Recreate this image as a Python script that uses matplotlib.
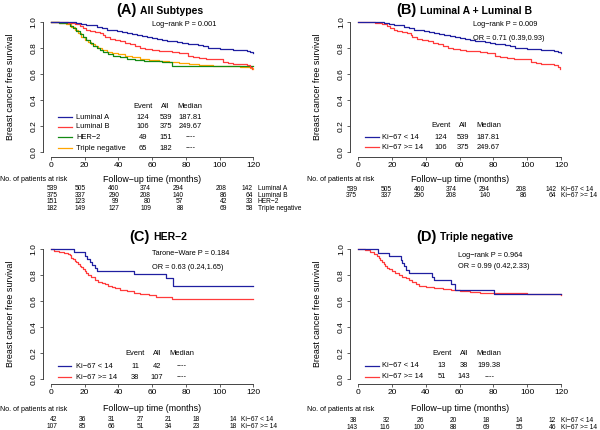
import numpy as np
import matplotlib
matplotlib.use("Agg")
import matplotlib.pyplot as plt
import matplotlib.transforms as mtransforms

plt.rcParams['font.family'] = ['Liberation Sans', 'DejaVu Sans']

# ---- survival curves (time in months, survival fraction) ----
lumA_t = [0, 8, 12, 15, 18, 21, 24, 27, 30, 33, 36, 39, 42, 45, 48, 51, 54, 57, 60, 63, 66, 69,
          72, 75, 78, 81, 84, 87, 90, 93, 96, 100, 104, 108, 112, 116, 118, 120]
lumA_s = [1.0, 0.998, 0.995, 0.99, 0.985, 0.978, 0.972, 0.962, 0.948, 0.94, 0.935, 0.928, 0.922,
          0.915, 0.907, 0.898, 0.89, 0.882, 0.872, 0.866, 0.86, 0.855, 0.85, 0.845, 0.838, 0.832,
          0.826, 0.82, 0.812, 0.8, 0.797, 0.792, 0.787, 0.784, 0.78, 0.776, 0.768, 0.758]

lumB_t = [0, 5, 10, 14, 17, 19, 21, 23, 26, 29, 31, 32, 35, 38, 41, 44, 47, 50, 53, 56, 60, 64,
          68, 72, 76, 80, 81, 84, 88, 92, 96, 100, 102, 105, 108, 112, 116, 118, 119.5]
lumB_s = [1.0, 0.995, 0.99, 0.98, 0.97, 0.955, 0.94, 0.925, 0.918, 0.912, 0.9, 0.88, 0.868, 0.858,
          0.848, 0.84, 0.83, 0.815, 0.8, 0.792, 0.785, 0.778, 0.772, 0.765, 0.762, 0.758, 0.735,
          0.728, 0.72, 0.716, 0.713, 0.71, 0.69, 0.683, 0.677, 0.672, 0.668, 0.655, 0.635]

her2_t = [0, 5, 8, 11, 13, 15, 17, 19, 21, 23, 25, 27, 29, 31, 34, 37, 41, 45, 50, 55, 60, 66,
          72, 120]
her2_s = [1.0, 0.993, 0.987, 0.97, 0.955, 0.93, 0.905, 0.88, 0.86, 0.84, 0.815, 0.795, 0.78,
          0.765, 0.75, 0.735, 0.725, 0.715, 0.708, 0.7, 0.694, 0.69, 0.66, 0.66]

tn_t = [0, 5, 9, 12, 14, 16, 18, 20, 22, 24, 26, 28, 30, 33, 36, 40, 44, 48, 53, 58, 64, 70, 76,
        82, 88, 96, 104, 112, 118, 120]
tn_s = [1.0, 0.993, 0.985, 0.96, 0.94, 0.91, 0.88, 0.86, 0.845, 0.83, 0.81, 0.795, 0.78, 0.77,
        0.76, 0.748, 0.737, 0.727, 0.715, 0.706, 0.697, 0.688, 0.68, 0.673, 0.667, 0.662, 0.657,
        0.652, 0.645, 0.638]

her2_lo_t = [0, 13.6, 20, 21.5, 23, 24.5, 26, 27.5, 49.4, 68, 72.5, 120]
her2_lo_s = [1.0, 0.976, 0.952, 0.929, 0.905, 0.881, 0.857, 0.833, 0.81, 0.78, 0.715, 0.715]
her2_hi_t = [0, 2, 5, 8, 10, 11, 12, 13, 14, 15, 16, 17, 18, 19, 20, 21, 22, 24, 26, 28, 30, 32,
             34, 36, 38, 41, 45, 49, 53, 58, 62, 72, 120]
her2_hi_s = [1.0, 0.99, 0.981, 0.972, 0.963, 0.953, 0.935, 0.925, 0.91, 0.9, 0.89, 0.875, 0.865,
             0.85, 0.835, 0.815, 0.8, 0.785, 0.765, 0.75, 0.74, 0.73, 0.72, 0.71, 0.7, 0.688,
             0.675, 0.665, 0.655, 0.645, 0.635, 0.615, 0.615]

tn_lo_t = [0, 11.5, 18, 25, 26, 27, 28.4, 30, 43.7, 45, 54.7, 57, 80.5, 120]
tn_lo_s = [1.0, 0.974, 0.947, 0.921, 0.895, 0.868, 0.842, 0.816, 0.79, 0.76, 0.73, 0.69, 0.655,
           0.655]
tn_hi_t = [0, 4, 7, 9, 11, 12, 13, 14, 15, 16, 17, 18, 20, 22, 24, 26, 28, 30, 32, 34, 36, 40,
           45, 50, 55, 60, 66, 72, 80, 90, 100, 114, 120]
tn_hi_s = [1.0, 0.993, 0.979, 0.965, 0.95, 0.935, 0.92, 0.9, 0.885, 0.87, 0.855, 0.845, 0.83,
           0.815, 0.8, 0.79, 0.775, 0.76, 0.745, 0.732, 0.72, 0.712, 0.705, 0.697, 0.69, 0.678,
           0.67, 0.665, 0.665, 0.66, 0.658, 0.655, 0.645]

# ---- legend tables ----
subtype_names = ['Luminal A', 'Luminal B', 'HER\u22122', 'Triple negative']
subtype_events = [124, 106, 49, 65]
subtype_all = [539, 375, 151, 182]
subtype_median = ['187.81', '249.67', '----', '----']

ki_names = ['Ki\u221267 < 14', 'Ki\u221267 >= 14']
lum_events = [124, 106]
lum_all = [539, 375]
lum_median = ['187.81', '249.67']
her2_events = [11, 38]
her2_all = [42, 107]
her2_median = ['----', '----']
tn_events = [13, 51]
tn_all = [38, 143]
tn_median = ['199.38', '----']

# ---- numbers at risk at 0, 20, ..., 120 months ----
risk_lumA = [539, 505, 460, 374, 294, 208, 142]
risk_lumB = [375, 337, 290, 208, 140, 86, 64]
risk_her2 = [151, 123, 99, 80, 57, 42, 33]
risk_tn = [182, 149, 127, 109, 88, 69, 58]
risk_her2_lo = [42, 36, 31, 27, 21, 18, 14]
risk_her2_hi = [107, 85, 66, 51, 34, 23, 18]
risk_tn_lo = [38, 32, 26, 20, 18, 14, 12]
risk_tn_hi = [143, 116, 100, 88, 69, 55, 46]

BLUE = '#1f1fa0'
RED = '#ff3b3b'
GREEN = '#138a13'
ORANGE = '#ffa500'

W, H = 600, 430
fig = plt.figure(figsize=(6, 4.3), dpi=100)
# transform in figure pixels, origin top-left
fig_px = mtransforms.Affine2D().scale(1 / W, -1 / H).translate(0, 1) + fig.transFigure


def px_axes(x0, x120, y1, y0):
    # R style axes: 4% padding around data range
    ppm = (x120 - x0) / 120.
    left, right = x0 - 4.8 * ppm, x120 + 4.8 * ppm
    ppu = y0 - y1
    top, bottom = y1 - 0.04 * ppu, y0 + 0.04 * ppu
    return fig.add_axes([left / W, 1 - bottom / H, (right - left) / W, (bottom - top) / H])


def draw_panel(ax, curves, xlab_y):
    for t, s, c in curves:
        ax.plot(t, s, drawstyle='steps-post', color=c, lw=0.9, clip_on=False)
    ax.set_xlim(-4.8, 124.8)
    ax.set_ylim(-0.04, 1.04)
    for sp in ['top', 'right']:
        ax.spines[sp].set_visible(False)
    ax.spines['left'].set_bounds(0, 1)
    ax.spines['bottom'].set_bounds(0, 120)
    for sp in ['left', 'bottom']:
        ax.spines[sp].set_linewidth(0.7)
        ax.spines[sp].set_color('#444444')
    ax.set_xticks(np.arange(0, 121, 20))
    ax.set_yticks(np.arange(0, 1.01, 0.2))
    ax.set_yticklabels([f'{v:.1f}' for v in np.arange(0, 1.01, 0.2)])
    ax.tick_params(length=2.5, width=0.6, pad=1.2, labelsize=6, color='#444444')
    ax.tick_params(axis='y', labelrotation=90)
    for lab in ax.get_yticklabels():
        lab.set_va('center')
    ax.set_xlabel('Follow\u2212up time (months)', fontsize=6.4)
    ax.set_ylabel('Breast cancer free survival', fontsize=6.4)
    ax.xaxis.set_label_coords(0.5, xlab_y)
    ax.yaxis.set_label_coords(-0.128, 0.5)


def legend_table(ax, names, colors, events, alls, medians, xs, y_head, y_rows):
    x_l0, x_l1, x_lab, x_ev, x_all, x_med = xs
    ax.text(x_ev, y_head, 'Event', fontsize=5.4, ha='center', va='center')
    ax.text(x_all, y_head, 'All', fontsize=5.4, ha='center', va='center')
    ax.text(x_med, y_head, 'Median', fontsize=5.4, ha='center', va='center')
    for n, c, e, a, m, y in zip(names, colors, events, alls, medians, y_rows):
        ax.plot([x_l0, x_l1], [y, y], color=c, lw=0.9)
        ax.text(x_lab, y, n, fontsize=5.4, ha='left', va='center')
        ax.text(x_ev, y, str(e), fontsize=5.4, ha='center', va='center')
        ax.text(x_all, y, str(a), fontsize=5.4, ha='center', va='center')
        ax.text(x_med, y, m, fontsize=5.4, ha='center', va='center')


def risk_table(ax, rows, names, col_x, lab_x, head_xy, row_y):
    tr = mtransforms.blended_transform_factory(ax.transData, fig_px)
    fig.text(head_xy[0], head_xy[1], 'No. of patients at risk', fontsize=5.1,
             ha='left', va='center', transform=fig_px)
    for vals, n, y in zip(rows, names, row_y):
        for v, x in zip(vals, col_x):
            ax.text(x, y, str(v), fontsize=4.8, ha='right', va='center', transform=tr,
                    clip_on=False)
        ax.text(lab_x, y, n, fontsize=4.8, ha='left', va='center', transform=tr, clip_on=False)


def title(x_split, y, tag, name):
    fig.text(x_split, y, tag, fontsize=10.5, fontweight='bold', ha='right', va='center',
             transform=fig_px)
    fig.text(x_split + 3.5, y + 0.5, name, fontsize=7.5, fontweight='bold', ha='left',
             va='center', transform=fig_px)


# (A) All subtypes
axA = px_axes(51, 253.3, 21.7, 151.7)
draw_panel(axA, [(tn_t, tn_s, ORANGE), (her2_t, her2_s, GREEN),
                 (lumB_t, lumB_s, RED), (lumA_t, lumA_s, BLUE)], -0.13)
axA.text(60, 0.975, 'Log\u2212rank P = 0.001', fontsize=5.3, ha='left', va='center')
legend_table(axA, subtype_names, [BLUE, RED, GREEN, ORANGE], subtype_events, subtype_all,
             subtype_median, (4.2, 12.5, 14.8, 54.6, 68, 82.6), 0.35,
             [0.266, 0.19, 0.113, 0.028])
risk_table(axA, [risk_lumA, risk_lumB, risk_her2, risk_tn], subtype_names,
           [3.8, 20.6, 40.4, 59.3, 78.6, 104.4, 119.8], 122.6, (0.5, 179.5),
           [188.3, 195.1, 201.8, 208.8])
title(136.7, 10, '(A)', 'All Subtypes')

# (B) Luminal A + Luminal B
axB = px_axes(358.3, 561, 21.7, 151.7)
draw_panel(axB, [(lumB_t, lumB_s, RED), (lumA_t, lumA_s, BLUE)], -0.13)
axB.text(68, 0.975, 'Log\u2212rank P = 0.009', fontsize=5.3, ha='left', va='center')
axB.text(68, 0.872, 'OR = 0.71 (0.39,0.93)', fontsize=5.3, ha='left', va='center')
legend_table(axB, ki_names, [BLUE, RED], lum_events, lum_all, lum_median,
             (4, 12, 14, 49, 62, 77), 0.198, [0.113, 0.036])
risk_table(axB, [risk_lumA, risk_lumB], ki_names,
           [-0.6, 19.8, 39.5, 58.3, 78, 99.7, 117.1], 120.2, (307, 179.5), [189.5, 195.8])
title(416.7, 10, '(B)', 'Luminal A + Luminal B')

# (C) HER-2
axC = px_axes(51, 253.3, 249.3, 379)
draw_panel(axC, [(her2_hi_t, her2_hi_s, RED), (her2_lo_t, her2_lo_s, BLUE)], -0.14)
axC.text(60, 0.964, 'Tarone\u2212Ware P = 0.184', fontsize=5.3, ha='left', va='center')
axC.text(60, 0.856, 'OR = 0.63 (0.24,1.65)', fontsize=5.3, ha='left', va='center')
legend_table(axC, ki_names, [BLUE, RED], her2_events, her2_all, her2_median,
             (4, 12, 15, 50, 63, 77.5), 0.193, [0.10, 0.015])
risk_table(axC, [risk_her2_lo, risk_her2_hi], ki_names,
           [3.8, 20.8, 38, 55.3, 71.7, 88.5, 110.3], 112.7, (0.5, 409.5), [419.8, 426.8])
title(149.3, 237, '(C)', 'HER\u22122')

# (D) Triple negative
axD = px_axes(358.3, 561, 249.3, 379)
draw_panel(axD, [(tn_hi_t, tn_hi_s, RED), (tn_lo_t, tn_lo_s, BLUE)], -0.14)
axD.text(59, 0.956, 'Log\u2212rank P = 0.964', fontsize=5.3, ha='left', va='center')
axD.text(59, 0.864, 'OR = 0.99 (0.42,2.33)', fontsize=5.3, ha='left', va='center')
legend_table(axD, ki_names, [BLUE, RED], tn_events, tn_all, tn_median,
             (4, 12, 14, 49.3, 62.6, 77.5), 0.193, [0.103, 0.018])
risk_table(axD, [risk_tn_lo, risk_tn_hi], ki_names,
           [-0.6, 18.8, 38.9, 58.3, 78, 97.7, 117.1], 120.2, (307, 409.5), [420.5, 427.3])
title(436.7, 237, '(D)', 'Triple negative')

fig.savefig('out.png', dpi=100)
